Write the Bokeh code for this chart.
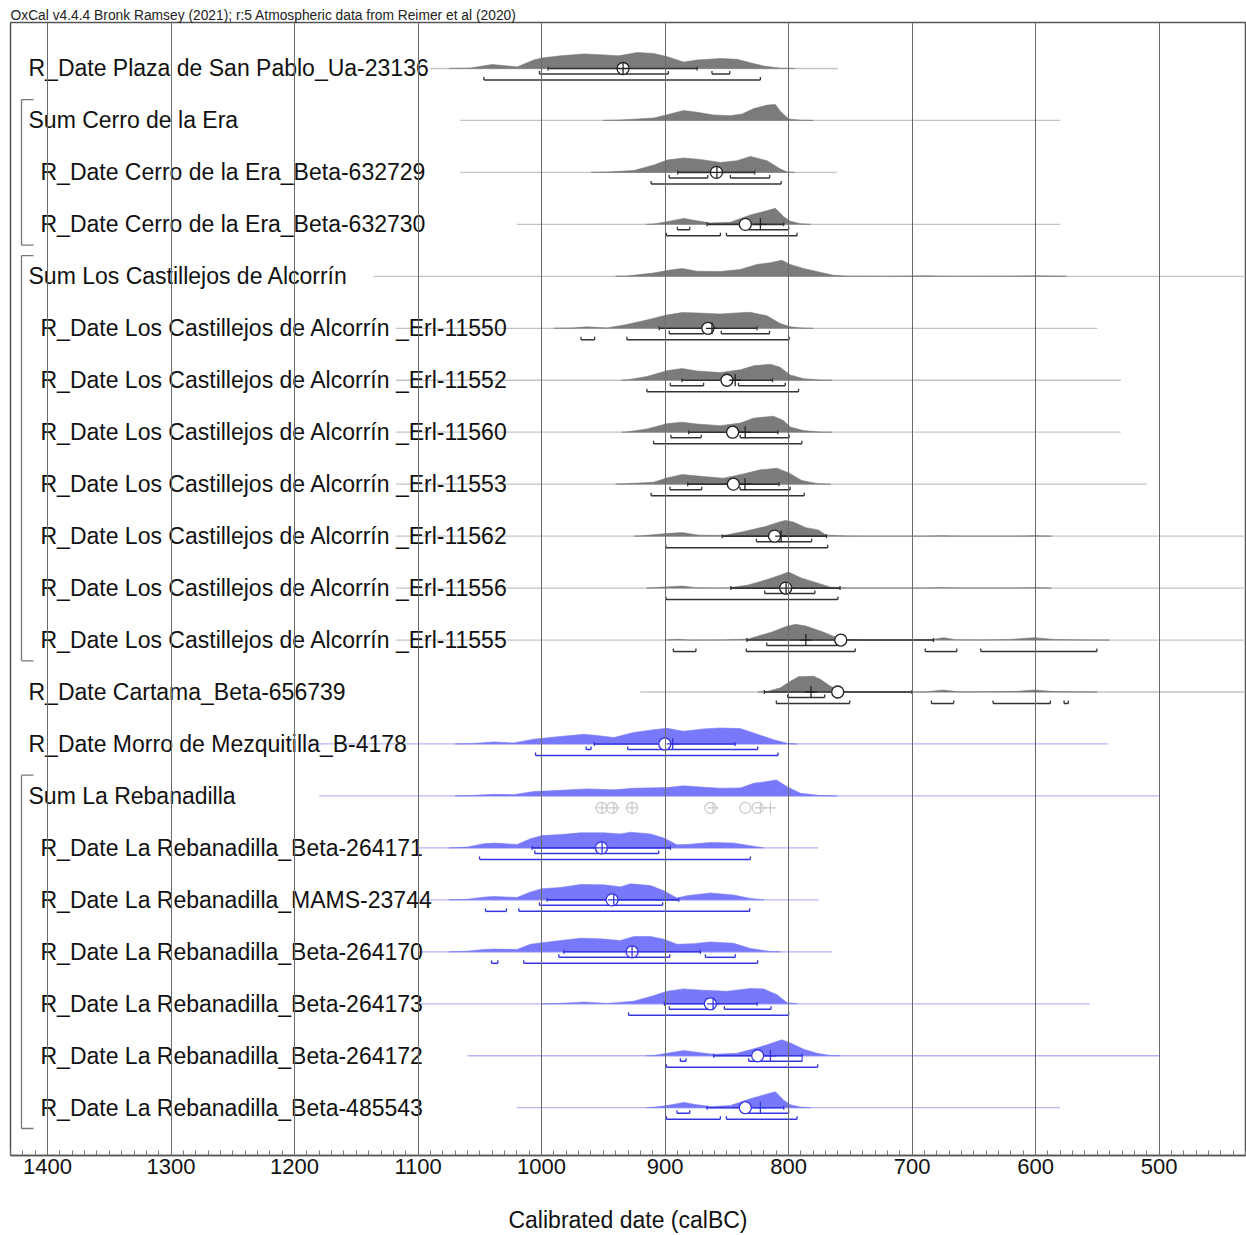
from bokeh.plotting import figure
from bokeh.models import Range1d, SingleIntervalTicker
from bokeh.embed import file_html
from bokeh.resources import INLINE
from bokeh.core.properties import value

# ---------------- data ----------------
labels = [
    "R_Date Plaza de San Pablo_Ua-23136",
    "Sum Cerro de la Era",
    "R_Date Cerro de la Era_Beta-632729",
    "R_Date Cerro de la Era_Beta-632730",
    "Sum Los Castillejos de Alcorrín",
    "R_Date Los Castillejos de Alcorrín _Erl-11550",
    "R_Date Los Castillejos de Alcorrín _Erl-11552",
    "R_Date Los Castillejos de Alcorrín _Erl-11560",
    "R_Date Los Castillejos de Alcorrín _Erl-11553",
    "R_Date Los Castillejos de Alcorrín _Erl-11562",
    "R_Date Los Castillejos de Alcorrín _Erl-11556",
    "R_Date Los Castillejos de Alcorrín _Erl-11555",
    "R_Date Cartama_Beta-656739",
    "R_Date Morro de Mezquitilla_B-4178",
    "Sum La Rebanadilla",
    "R_Date La Rebanadilla_Beta-264171",
    "R_Date La Rebanadilla_MAMS-23744",
    "R_Date La Rebanadilla_Beta-264170",
    "R_Date La Rebanadilla_Beta-264173",
    "R_Date La Rebanadilla_Beta-264172",
    "R_Date La Rebanadilla_Beta-485543",
]
indented = [0, 0, 1, 1, 0, 1, 1, 1, 1, 1, 1, 1, 0, 0, 0, 1, 1, 1, 1, 1, 1]
is_blue = [False] * 13 + [True] * 8
sum_groups = [(1, 3), (4, 11), (14, 20)]

line_from = [1090, 1066, 1066, 1020, 1136, 1118, 1118, 1118, 1118, 1118, 1118,
             1118, 920, 1190, 1180, 1100, 1100, 1100, 1100, 1060, 1020]
line_to = [760, 580, 761, 580, 430, 550, 531, 531, 510, 430, 430,
           430, 430, 541, 500, 776, 776, 765, 556, 500, 580]

mean_bc = [934, None, 858.4, 835, None, 865.3, 849.9, 845.3, 844.7, 811.3, 802.3,
           757.7, 760.2, 900.2, None, 951.5, 942.9, 926.7, 863.3, 825, 835]
median_bc = [934, None, 858, 822.8, None, 862, 843.2, 835.1, 835.3, 806, 802,
             786, 781.8, 893.8, None, 951, 941.5, 926.7, 861.1, 814.7, 822.8]
sigma_from = [994.7, None, 889.7, 866, None, 904.7, 886.3, 880.9, 881.7, 853.7, 846.7,
              833.7, 819.6, 957.2, None, 1007.6, 995.5, 982, 900.5, 860.6, 866]
sigma_to = [874, None, 827.4, 803.9, None, 825.6, 813, 808.6, 807.7, 769.3, 758.3,
            682.7, 700, 843.3, None, 895.7, 888.9, 871.4, 825.5, 789, 803.9]

range68 = [
    [(1001.7, 897.3), (862, 847.6)],
    [],
    [(896.7, 865.4), (847.1, 815.3)],
    [(890, 880), (832.3, 799.9)],
    [],
    [(896.6, 868.8), (854.5, 815.4)],
    [(895.8, 868.8), (840.5, 802.7)],
    [(895.3, 870.7), (839.1, 799.5)],
    [(896, 870.3), (839.3, 798.7)],
    [(826, 781.3)],
    [(819.3, 778.7)],
    [(817.7, 760.3)],
    [(800.7, 770.7)],
    [(963.9, 959.9), (930.2, 825)],
    [],
    [(1005.5, 905.1)],
    [(1001.7, 901.9)],
    [(986, 896.2), (867.3, 843.1)],
    [(896.7, 863.8), (852, 814.2)],
    [(887.6, 883), (832.3, 789)],
    [(890.3, 880), (832.3, 799.9)],
]
range95 = [
    [(1046.7, 822.8)],
    [],
    [(911.3, 806)],
    [(898.9, 855.2), (850.3, 793.1)],
    [],
    [(968.1, 957), (930.9, 799.5)],
    [(914.7, 791.9)],
    [(909.3, 789.2)],
    [(911.3, 787.3)],
    [(899.3, 768.3)],
    [(899.3, 760)],
    [(893.3, 875), (834.3, 746), (689.3, 663.7), (644.3, 550.3)],
    [(809.9, 750.5), (684.3, 666.3), (634.4, 588), (576.9, 573.4)],
    [(1004.9, 808.5)],
    [],
    [(1050.2, 830.9)],
    [(1045.4, 1028.4), (1018.4, 831.4)],
    [(1040.5, 1035.4), (1014.4, 825)],
    [(929.6, 799.9)],
    [(898.9, 776.4)],
    [(898.9, 855.2), (850.3, 793.1)],
]

# probability curves: (calBC year, relative density)
dist_r00 = [(1075, 0), (1057.5, 0.03), (1040, 0.25), (1019.8, 0.1), (1006.3, 0.53), (999.5, 0.66),
            (984.7, 0.79), (965.8, 0.91), (949.6, 0.85), (937.5, 0.79), (922.6, 1.0), (909.1, 0.94),
            (898.3, 0.74), (884.9, 0.4), (874.1, 0.53), (855.2, 0.62), (841.7, 0.57), (830.9, 0.36),
            (820.1, 0.15), (806.6, 0.02), (795, 0)]
dist_r01 = [(950, 0), (936.1, 0.03), (909.1, 0.15), (898.3, 0.36), (884.9, 0.62), (874.1, 0.51),
            (860.6, 0.34), (847.1, 0.3), (837.6, 0.4), (828.2, 0.74), (817.4, 0.96), (810.7, 1.0),
            (806.6, 0.57), (799.9, 0.09), (790.4, 0.02), (780, 0)]
dist_r02 = [(960, 0), (946.9, 0.02), (925.3, 0.12), (909.1, 0.46), (898.3, 0.77), (884.9, 0.9),
            (871.4, 0.81), (855.2, 0.62), (841.7, 0.73), (830.9, 1.0), (817.4, 0.73), (806.6, 0.21),
            (801.2, 0.03), (795, 0)]
dist_r03 = [(915, 0), (909.1, 0.03), (898.3, 0.17), (884.9, 0.37), (874.1, 0.22), (863.3, 0.09),
            (847.1, 0.13), (830.9, 0.59), (820.1, 0.8), (810.7, 1.0), (803.9, 0.48), (798.5, 0.2),
            (790.4, 0.04), (782, 0)]
dist_r04 = [(940, 0), (930.9, 0.02), (909.3, 0.21), (898.5, 0.36), (886.3, 0.49), (874.2, 0.32),
            (855.3, 0.3), (839.1, 0.43), (825.6, 0.74), (814.8, 0.85), (805.4, 1.0), (798.7, 0.74),
            (787.9, 0.49), (777.1, 0.3), (763.6, 0.06), (750.1, 0.01), (720, 0), (690, 0.03),
            (670, 0), (620, 0.01), (600, 0.03), (575, 0)]
dist_r05 = [(990, 0), (975, 0.02), (963.2, 0.09), (947, 0.02), (930.9, 0.24), (914.7, 0.52),
            (898.5, 0.83), (886.3, 0.98), (874.2, 0.96), (855.3, 0.89), (841.8, 0.96), (831.1, 1.0),
            (817.5, 0.78), (806.8, 0.3), (798.7, 0.09), (787.9, 0.01), (780, 0)]
dist_r06 = [(935, 0), (930.9, 0.02), (914.7, 0.23), (898.5, 0.6), (886.3, 0.73), (874.2, 0.58),
            (855.3, 0.48), (839.1, 0.65), (828.3, 0.9), (814.9, 1.0), (806.8, 0.81), (798.7, 0.33),
            (787.9, 0.1), (774.4, 0.01), (765, 0)]
dist_r07 = [(935, 0), (930.9, 0.02), (914.7, 0.2), (898.5, 0.53), (886.3, 0.63), (874.2, 0.51),
            (855.3, 0.41), (839.1, 0.57), (828.3, 0.88), (812.2, 1.0), (804.1, 0.73), (798.7, 0.33),
            (787.9, 0.1), (774.4, 0.01), (765, 0)]
dist_r08 = [(940, 0), (932.7, 0.02), (909.3, 0.12), (899.3, 0.37), (886, 0.6), (869.3, 0.48),
            (852.7, 0.37), (836, 0.65), (822.7, 0.9), (809.3, 1.0), (799.3, 0.69), (789.3, 0.23),
            (776, 0.02), (766, 0)]
dist_r09 = [(925, 0), (919.3, 0.02), (896, 0.18), (886, 0.22), (872.7, 0.06), (852.7, 0.04),
            (836, 0.29), (819.3, 0.59), (809.3, 0.84), (802.7, 0.98), (796, 0.88), (786, 0.53),
            (776, 0.39), (769.3, 0.06), (752.7, 0.01), (740, 0), (690, 0), (676, 0.03), (662, 0),
            (615, 0), (601, 0.03), (587, 0)]
dist_r10 = [(915, 0), (909.3, 0.02), (896, 0.09), (886, 0.13), (875, 0.02), (860, 0), (849.3, 0.01),
            (832.7, 0.19), (816, 0.57), (806, 0.83), (800, 1.0), (789.3, 0.62), (776, 0.3),
            (766, 0.06), (752.7, 0.01), (740, 0), (690, 0), (676, 0.03), (662, 0), (615, 0),
            (601, 0.03), (587, 0)]
dist_r11 = [(900, 0), (890, 0.05), (880, 0), (852.7, 0.01), (832.7, 0.06), (812.7, 0.52),
            (802.7, 0.83), (794.3, 0.98), (786, 0.88), (772.7, 0.52), (762.7, 0.21), (752.7, 0.04),
            (739.3, 0.01), (700, 0), (685, 0.02), (674.3, 0.15), (665, 0.02), (645, 0.01),
            (620, 0.04), (601, 0.15), (585, 0.04), (560, 0.01), (540, 0)]
dist_r12 = [(825, 0), (817.4, 0.03), (806.6, 0.26), (798.5, 0.68), (791.8, 0.96), (779.6, 0.98),
            (774.2, 0.79), (766.1, 0.36), (758, 0.1), (750, 0.01), (740, 0), (690, 0), (675, 0.12),
            (662, 0.01), (640, 0.02), (615, 0.04), (601, 0.12), (588, 0.04), (570, 0.01), (550, 0)]
dist_r13 = [(1070, 0), (1057.5, 0.02), (1038.6, 0.13), (1022.5, 0.06), (1006.3, 0.3), (984.7, 0.47),
            (965.8, 0.6), (955, 0.53), (941.5, 0.4), (925.3, 0.72), (909.1, 0.89), (898.3, 0.98),
            (884.9, 0.79), (868.7, 0.94), (855.2, 1.0), (839, 0.96), (828.2, 0.68), (812, 0.26),
            (801.2, 0.04), (793.1, 0)]
dist_r14 = [(1070, 0), (1057.5, 0.02), (1038.6, 0.1), (1022.5, 0.08), (1006.3, 0.27), (984.7, 0.35),
            (963.1, 0.44), (941.5, 0.38), (925.3, 0.48), (898.3, 0.52), (884.9, 0.63), (868.7, 0.54),
            (855.2, 0.48), (839, 0.5), (828.2, 0.79), (817.4, 0.9), (809.9, 1.0), (801.2, 0.58),
            (790.4, 0.17), (774.2, 0.02), (760.8, 0)]
dist_r15 = [(1075, 0), (1060, 0.05), (1046.7, 0.26), (1038.6, 0.3), (1019.8, 0.21), (1009, 0.57),
            (999.5, 0.77), (984.7, 0.83), (968.5, 0.94), (949.6, 0.94), (936.1, 0.87), (928, 0.98),
            (911.8, 0.87), (901, 0.62), (890.3, 0.19), (882.2, 0.21), (863.3, 0.34), (844.4, 0.3),
            (830.9, 0.13), (820.1, 0)]
dist_r16 = [(1075, 0), (1060, 0.04), (1046.7, 0.17), (1038.6, 0.21), (1019.8, 0.15), (1009, 0.49),
            (999.5, 0.7), (984.7, 0.77), (968.5, 0.96), (949.6, 0.94), (936.1, 0.81), (928, 1.0),
            (911.8, 0.89), (901, 0.57), (890.3, 0.11), (882.2, 0.26), (863.3, 0.43), (844.4, 0.3),
            (830.9, 0.09), (820.1, 0)]
dist_r17 = [(1075, 0), (1060, 0.04), (1046.7, 0.15), (1038.6, 0.17), (1019.8, 0.15), (1009, 0.47),
            (999.5, 0.57), (984.7, 0.7), (968.5, 0.85), (952.3, 0.81), (936.1, 0.7), (925.3, 0.96),
            (911.8, 0.96), (901, 0.79), (890.3, 0.47), (876.8, 0.51), (863.3, 0.62), (844.4, 0.53),
            (830.9, 0.21), (814.7, 0.02), (806.6, 0)]
dist_r18 = [(1000, 0), (990, 0.01), (975, 0.06), (965.8, 0.11), (946.9, 0.02), (925.3, 0.16),
            (909.1, 0.51), (898.3, 0.78), (884.9, 0.93), (868.7, 0.84), (849.8, 0.78), (830.9, 0.96),
            (820.1, 0.93), (809.3, 0.56), (801.2, 0.07), (793.1, 0)]
dist_r19 = [(915, 0), (909.1, 0.02), (898.3, 0.15), (884.9, 0.32), (871.4, 0.19), (860.6, 0.09),
            (841.7, 0.15), (828.2, 0.43), (817.4, 0.68), (805.3, 1.0), (798.5, 0.79), (787.7, 0.4),
            (776.9, 0.15), (766.1, 0.02), (758, 0)]
dist_r20 = [(915, 0), (909.1, 0.03), (898.3, 0.13), (884.9, 0.33), (874.1, 0.18), (863.3, 0.07),
            (847.1, 0.13), (830.9, 0.56), (820.1, 0.8), (810.7, 1.0), (803.9, 0.47), (798.5, 0.18),
            (790.4, 0.04), (782, 0)]
dists = [dist_r00, dist_r01, dist_r02, dist_r03, dist_r04, dist_r05, dist_r06, dist_r07,
         dist_r08, dist_r09, dist_r10, dist_r11, dist_r12, dist_r13, dist_r14, dist_r15,
         dist_r16, dist_r17, dist_r18, dist_r19, dist_r20]

x_ticks_interval = 100
title_text = "OxCal v4.4.4 Bronk Ramsey (2021); r:5 Atmospheric data from Reimer et al (2020)"
x_title = "Calibrated date (calBC)"

# ---------------- layout constants ----------------
X_START, X_END = 1430, 430
FRAME_W, FRAME_H = 1235, 1133
Y_TOP, Y_BOT = -0.885, 20.92
PX_X = FRAME_W / (X_START - X_END)          # px per year
PX_Y = FRAME_H / (Y_BOT - Y_TOP)            # px per row
PEAK = 16 / PX_Y
OFF68 = 5.5 / PX_Y
OFF95 = 11.5 / PX_Y
TICK = 3 / PX_Y

GRAY_FILL = "#7b7b7b"
BLUE_FILL = "#7878fa"
GRAY_DARK = "#333333"
BLUE_DARK = "#3434e0"
GRAY_LINE = "#c4c4c4"
BLUE_LINE = "#b4b4f8"

p = figure(frame_width=FRAME_W, frame_height=FRAME_H,
           x_range=Range1d(X_START, X_END), y_range=Range1d(Y_BOT, Y_TOP),
           output_backend="svg", toolbar_location=None,
           min_border_left=10, min_border_right=1, min_border_top=22, min_border_bottom=0)
p.background_fill_color = "white"
p.border_fill_color = "white"
p.outline_line_color = "#555555"
p.outline_line_width = 1.5

p.title.text = title_text
p.title.text_font = "Liberation Sans"
p.title.text_font_size = "13.8px"
p.title.text_font_style = "normal"
p.title.text_color = "#222222"
p.title.standoff = 0
p.title.offset = 0

p.yaxis.visible = False
p.ygrid.visible = False
ax = p.xaxis[0]
ax.ticker = SingleIntervalTicker(interval=x_ticks_interval, num_minor_ticks=10)
ax.major_tick_in = 0
ax.major_tick_out = 0
ax.minor_tick_in = 5
ax.minor_tick_out = 0
ax.minor_tick_line_color = "#777777"
ax.axis_line_color = "#555555"
ax.axis_line_width = 1.5
ax.major_label_text_font = "Liberation Sans"
ax.major_label_text_font_size = "22px"
ax.major_label_text_color = "#111111"
ax.major_label_standoff = 3
ax.axis_label = x_title
ax.axis_label_text_font = "Liberation Sans"
ax.axis_label_text_font_size = "23px"
ax.axis_label_text_font_style = "normal"
ax.axis_label_text_color = "#111111"
ax.axis_label_standoff = 30

p.xgrid.ticker = SingleIntervalTicker(interval=x_ticks_interval)
p.xgrid.grid_line_color = "#6a6a6a"
p.xgrid.grid_line_width = 1
p.xgrid.level = "guide"

n = len(labels)
rows = list(range(n))

# light baseline lines
p.segment(x0=line_from, y0=rows, x1=line_to, y1=rows,
          line_color=[BLUE_LINE if b else GRAY_LINE for b in is_blue], line_width=1.3)

# distributions
xs, ys, fills = [], [], []
for r, d in enumerate(dists):
    yrs = [a for a, _ in d]
    ps = [q for _, q in d]
    xs.append(yrs + [yrs[-1], yrs[0]])
    ys.append([r - q * PEAK for q in ps] + [r, r])
    fills.append(BLUE_FILL if is_blue[r] else GRAY_FILL)
p.patches(xs=xs, ys=ys, fill_color=fills, line_color=fills, line_width=0.6)

# sigma lines with end ticks
sx0, sx1, sy, sc = [], [], [], []
tx, ty0, ty1, tc = [], [], [], []
for r in rows:
    if sigma_from[r] is None:
        continue
    col = BLUE_DARK if is_blue[r] else GRAY_DARK
    sx0.append(sigma_from[r]); sx1.append(sigma_to[r]); sy.append(r); sc.append(col)
    for xv in (sigma_from[r], sigma_to[r]):
        tx.append(xv); ty0.append(r - 2 / PX_Y); ty1.append(r + 2 / PX_Y); tc.append(col)
p.segment(x0=sx0, y0=sy, x1=sx1, y1=sy, line_color=sc, line_width=1.6)
p.segment(x0=tx, y0=ty0, x1=tx, y1=ty1, line_color=tc, line_width=1.3)

# range brackets
bx0, bx1, by, bc = [], [], [], []
kx, ky0, ky1, kc = [], [], [], []
for r in rows:
    col = BLUE_DARK if is_blue[r] else GRAY_DARK
    for rng, off in ((range68[r], OFF68), (range95[r], OFF95)):
        for a, b in rng:
            yy = r + off
            bx0.append(a); bx1.append(b); by.append(yy); bc.append(col)
            for xv in (a, b):
                kx.append(xv); ky0.append(yy); ky1.append(yy - TICK); kc.append(col)
p.segment(x0=bx0, y0=by, x1=bx1, y1=by, line_color=bc, line_width=1.5)
p.segment(x0=kx, y0=ky0, x1=kx, y1=ky1, line_color=kc, line_width=1.3)

# mean circles and median crosses
mr = [r for r in rows if mean_bc[r] is not None]
mcol = [BLUE_DARK if is_blue[r] else "#222222" for r in mr]
p.scatter(x=[mean_bc[r] for r in mr], y=mr, marker="circle", size=12,
          fill_color="white", line_color=mcol, line_width=1.3)
p.scatter(x=[median_bc[r] for r in mr], y=mr, marker="cross", size=12,
          line_color=mcol, line_width=1.3)

# component markers under Sum La Rebanadilla
sum_r = 14
comp = [r for r in range(15, 21)]
cy = [sum_r + 12 / PX_Y] * len(comp)
p.scatter(x=[mean_bc[r] for r in comp], y=cy, marker="circle", size=11,
          fill_color=None, line_color="#c8c8c8", line_width=1.2)
p.scatter(x=[median_bc[r] for r in comp], y=cy, marker="cross", size=11,
          line_color="#c8c8c8", line_width=1.2)

# group brackets on the left
gx = X_START - 11 / PX_X
gx2 = X_START - 23 / PX_X
for a, b in sum_groups:
    y0, y1 = a - 0.4, b + 0.4
    p.segment(x0=[gx, gx, gx], y0=[y0, y0, y1], x1=[gx, gx2, gx2], y1=[y1, y0, y1],
              line_color="#777777", line_width=1.3)

# labels
p.text(x=[X_START] * n, y=rows, text=labels,
       x_offset=[30 if i else 18 for i in indented], y_offset=0,
       text_font=value("Liberation Sans"), text_font_size="23px",
       text_baseline="middle", text_align="left", text_color="#111111")

open("out.html", "w").write(file_html(p, INLINE))
